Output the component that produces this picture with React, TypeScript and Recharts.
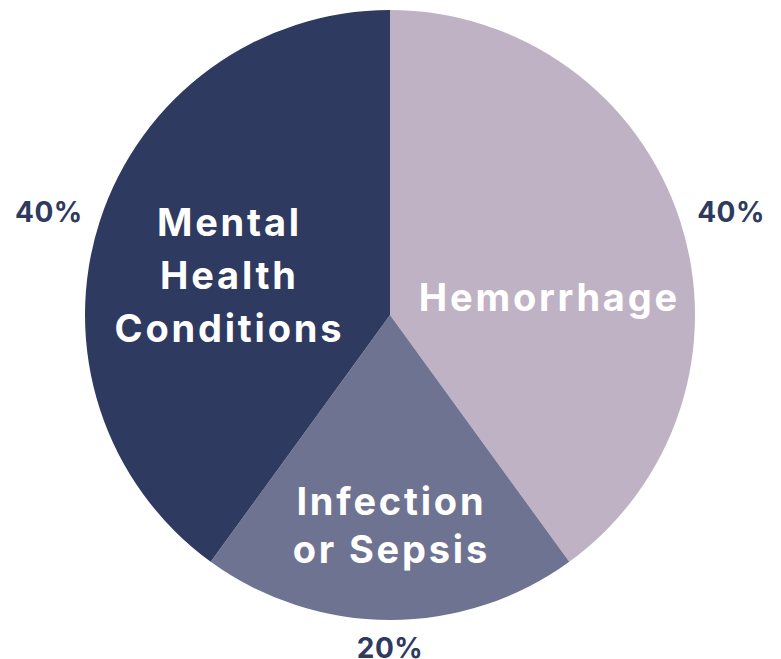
import React from "react";
import { PieChart, Pie, Cell } from "recharts";

const categories = ["Hemorrhage", "Infection or Sepsis", "Mental Health Conditions"];
const shares = [40, 20, 40];
const percentLabels = ["40%", "20%", "40%"];
const labelLines = [["Hemorrhage"], ["Infection", "or Sepsis"], ["Mental", "Health", "Conditions"]];

const COLORS = ["#BFB2C5", "#6E7391", "#2E3A5F"];
const TEXT_DARK = "#2E3A5F";
const FONT = "Inter, 'Open Sans', sans-serif";

// inner label placement, as fractions of the radius (dx, dy from centre)
const INNER_LAYOUT = [
  { dx: 0.518, dy: -0.059, lh: 52 },
  { dx: 0.0, dy: 0.689, lh: 48 },
  { dx: -0.531, dy: -0.131, lh: 53 },
];

const data = categories.map((name, i) => ({
  name,
  value: shares[i],
  pct: percentLabels[i],
  lines: labelLines[i],
}));

const RAD = Math.PI / 180;
const LS = 2.8;

const renderLabel = (props: any) => {
  const { cx, cy, midAngle, outerRadius, index } = props;
  const d = data[index];
  const cos = Math.cos(-midAngle * RAD);
  const sin = Math.sin(-midAngle * RAD);
  // outer percentage label
  const R = outerRadius + 18;
  const px = cx + R * cos;
  const capH = 20;
  const cyText = cy + R * sin + (capH / 2) * sin;
  const anchor = Math.abs(cos) < 0.1 ? "middle" : cos > 0 ? "start" : "end";
  // inner label
  const lay = INNER_LAYOUT[index];
  const ix = cx + lay.dx * outerRadius + LS / 2;
  const iy = cy + lay.dy * outerRadius;
  const n = d.lines.length;
  const fs = 38;
  const innerCap = 27;
  const firstBaseline = iy - ((n - 1) * lay.lh) / 2 + innerCap / 2;
  return (
    <g>
      <text
        x={px}
        y={cyText + capH / 2}
        textAnchor={anchor}
        fill={TEXT_DARK}
        fontFamily={FONT}
        fontWeight={700}
        fontSize={28}
        letterSpacing={0.5}
      >
        {d.pct}
      </text>
      <text
        x={ix}
        textAnchor="middle"
        fill="#FFFFFF"
        fontFamily={FONT}
        fontWeight={700}
        fontSize={fs}
        letterSpacing={LS}
      >
        {d.lines.map((ln: string, j: number) => (
          <tspan key={j} x={ix} y={firstBaseline + j * lay.lh}>
            {ln}
          </tspan>
        ))}
      </text>
    </g>
  );
};

export default function App() {
  return (
    <div style={{ position: "absolute", left: 0, top: 0, width: 781, height: 659 }}>
      <PieChart width={781} height={659} margin={{ top: 0, right: 0, bottom: 0, left: 0 }}>
        <Pie
          data={data}
          dataKey="value"
          nameKey="name"
          cx={390}
          cy={315}
          outerRadius={305}
          innerRadius={0}
          startAngle={90}
          endAngle={-270}
          stroke="none"
          label={renderLabel}
          labelLine={false}
          isAnimationActive={false}
        >
          {data.map((d, i) => (
            <Cell key={d.name} fill={COLORS[i]} />
          ))}
        </Pie>
      </PieChart>
    </div>
  );
}
